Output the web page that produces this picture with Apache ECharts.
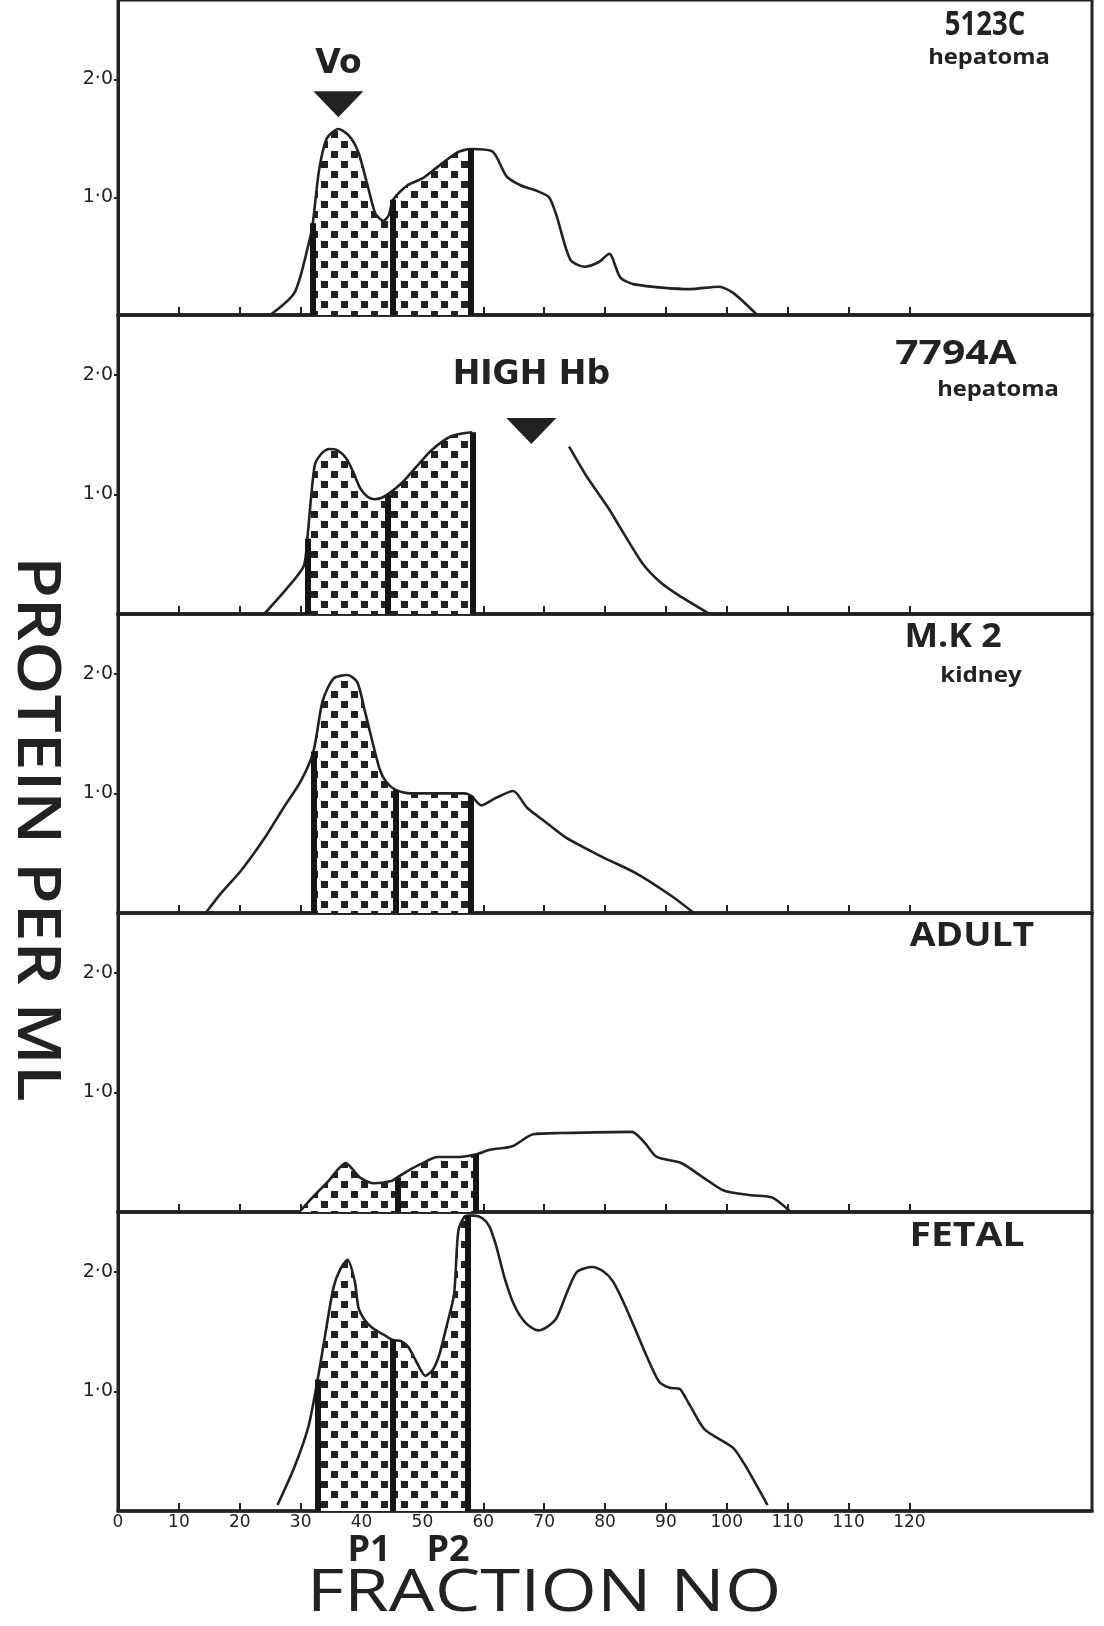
<!DOCTYPE html>
<html>
<head>
<meta charset="utf-8">
<title>Protein per ml</title>
<script src="https://cdn.jsdelivr.net/npm/echarts@6/dist/echarts.min.js"></script>
<style>
  html, body { margin: 0; padding: 0; background: #fff; }
  #chart { width: 1104px; height: 1626px; }
</style>
</head>
<body>
<div id="chart"></div>
<script>
// fraction axis (the print repeats "110")
const tickValues = [0, 10, 20, 30, 40, 50, 60, 70, 80, 90, 100, 110, 120, 130];
const tickLabels = ['0', '10', '20', '30', '40', '50', '60', '70', '80', '90', '100', '110', '110', '120'];
const yTickValues = [1, 2];
const yTickLabels = ['1·0', '2·0'];

// protein per ml, [fraction no, value]
const c5123 = [[25, 0], [29, 0.19], [31.3, 0.6], [32, 0.78], [33, 1.22], [34.3, 1.5], [36.2, 1.58], [38, 1.52],
  [39.5, 1.38], [41.1, 1.08], [42.3, 0.86], [43.6, 0.8], [44.5, 0.85], [45.2, 0.98], [47.5, 1.1], [50, 1.16],
  [52.3, 1.25], [55.7, 1.38], [58, 1.41], [61.5, 1.39], [63.8, 1.18], [66.2, 1.1], [69, 1.05], [70.8, 1.0],
  [72, 0.85], [74.3, 0.47], [76.6, 0.41], [79, 0.45], [80.7, 0.52], [82.5, 0.32], [84.8, 0.26], [93.9, 0.22],
  [98.7, 0.24], [101, 0.19], [105, 0]];
const c7794 = [[24, 0], [27.5, 0.2], [30.5, 0.4], [31.1, 0.63], [32.3, 1.24], [33.4, 1.34], [34.6, 1.38], [36, 1.37],
  [37.5, 1.3], [38.7, 1.18], [39.8, 1.05], [41, 0.98], [42.1, 0.96], [43.2, 0.97], [44.3, 1.0], [46.7, 1.1],
  [49, 1.23], [51.5, 1.37], [54.9, 1.49], [58.2, 1.52], [66, '-'], [74.1, 1.4], [77, 1.15], [80.5, 0.89],
  [83, 0.68], [86.2, 0.42], [89, 0.27], [92, 0.16], [97.2, 0]];
const mk2 = [[14.4, 0], [17, 0.17], [20.3, 0.36], [24, 0.62], [27.2, 0.88], [30, 1.1], [32.1, 1.35], [33.6, 1.77],
  [35.4, 1.96], [37.7, 1.99], [39.3, 1.93], [40.5, 1.7], [41.8, 1.43], [43, 1.2], [44, 1.1], [45.6, 1.03],
  [48, 1.0], [52, 1.0], [56.9, 1.0], [58, 0.98], [59.7, 0.9], [62, 0.96], [64.9, 1.02], [67.2, 0.88],
  [70, 0.77], [73.6, 0.63], [79.5, 0.47], [85.2, 0.33], [91, 0.14], [94.6, 0]];
const adult = [[29.8, 0], [32.1, 0.13], [34.6, 0.26], [36.2, 0.36], [37.4, 0.41], [38.5, 0.36], [39.7, 0.29],
  [42.1, 0.24], [44.9, 0.26], [45.9, 0.29], [47.5, 0.34], [49.7, 0.4], [52.5, 0.46], [56, 0.46], [58.7, 0.48],
  [61.1, 0.52], [64.8, 0.55], [68.2, 0.65], [72.8, 0.66], [84.4, 0.67], [86.5, 0.58], [88.5, 0.46], [92.5, 0.41],
  [96.1, 0.29], [99.5, 0.18], [104, 0.14], [107.5, 0.12], [110.5, 0]];
const fetal = [[26.2, 0.05], [29, 0.37], [31.3, 0.71], [32.8, 1.1], [33.8, 1.4], [35.4, 1.87], [36.5, 2.02],
  [37.7, 2.1], [38.9, 1.92], [39.5, 1.7], [40.5, 1.6], [41.8, 1.53], [44.1, 1.46], [45.2, 1.43], [46.5, 1.42],
  [47.7, 1.37], [49, 1.25], [50.5, 1.13], [51.7, 1.18], [52.8, 1.31], [54, 1.55], [55.2, 1.81], [55.9, 2.34],
  [56.9, 2.46], [57.5, 2.47], [58.5, 2.47], [59.8, 2.45], [61, 2.38], [62.1, 2.22], [63.5, 1.95], [65.1, 1.72],
  [67, 1.57], [69, 1.51], [70.5, 1.54], [72, 1.61], [73.7, 1.82], [75.4, 2.0], [77.9, 2.04], [79.8, 2.0],
  [81.3, 1.92], [83, 1.75], [84.8, 1.54], [86.8, 1.3], [88.9, 1.08], [90.6, 1.03], [92.3, 1.02], [93.2, 0.95],
  [94.1, 0.87], [96.4, 0.68], [101, 0.53], [102.8, 0.4], [104.4, 0.26], [106.7, 0.05]];

// P1 / P2 cut lines, [fraction no, value where they meet the curve]
const cuts5123 = [[32, 0.78], [45.2, 0.98], [58, 1.41]];
const cuts7794 = [[31.1, 0.63], [44.3, 1.0], [58.2, 1.52]];
const cutsMk2 = [[32.1, 1.35], [45.6, 1.03], [58, 0.98]];
const cutsAdult = [[29.8, 0], [45.9, 0.29], [58.7, 0.48]];
const cutsFetal = [[32.8, 1.1], [45.2, 1.43], [57.5, 2.47]];

// arrow markers
const voMark = [[36.2, 1.79]];
const hbMark = [[67.9, 1.53]];

const INK = '#222';
const UNIT = 119.6; // px per 1.0 on every panel
const panels = [
  { curve: c5123, cuts: cuts5123, top: -5, bottom: 315, mark: voMark, markText: 'Vo', markGap: 10 },
  { curve: c7794, cuts: cuts7794, top: 315, bottom: 614, mark: hbMark, markText: 'HIGH Hb', markGap: 26 },
  { curve: mk2, cuts: cutsMk2, top: 614, bottom: 913 },
  { curve: adult, cuts: cutsAdult, top: 913, bottom: 1212 },
  { curve: fetal, cuts: cutsFetal, top: 1212, bottom: 1511 }
];

// stippled fill
function dotTile() {
  const c = document.createElement('canvas');
  c.width = 20; c.height = 20;
  const g = c.getContext('2d');
  g.fillStyle = '#fff';
  g.fillRect(0, 0, 20, 20);
  g.fillStyle = '#222';
  g.fillRect(1, 1, 7, 7);
  g.fillRect(11, 11, 7, 7);
  return c;
}
const dots = { image: dotTile(), repeat: 'repeat' };

const chart = echarts.init(document.getElementById('chart'));

const grid = [], xAxis = [], yAxis = [], series = [];
panels.forEach((p, i) => {
  const last = i === panels.length - 1;
  grid.push({ left: 118, right: 12, top: p.top, height: p.bottom - p.top,
    show: true, borderColor: INK, borderWidth: 3, backgroundColor: 'transparent' });
  xAxis.push({
    gridIndex: i, type: 'value', min: 0, max: 160,
    axisLine: { lineStyle: { color: INK, width: 3.5 } },
    axisTick: { show: true, inside: true, length: 8, customValues: tickValues.slice(1), lineStyle: { color: INK, width: 2 } },
    axisLabel: {
      show: last, customValues: tickValues, margin: 3,
      formatter: v => tickLabels[tickValues.indexOf(v)],
      color: INK, fontSize: 17, fontFamily: 'DejaVu Sans, sans-serif'
    },
    splitLine: { show: false }
  });
  yAxis.push({
    gridIndex: i, type: 'value', min: 0, max: (p.bottom - p.top) / UNIT,
    axisLine: { show: true, lineStyle: { color: INK, width: 3 } },
    axisTick: { show: true, length: 4, customValues: yTickValues, lineStyle: { color: INK, width: 2 } },
    axisLabel: {
      customValues: yTickValues, margin: 5,
      formatter: v => yTickLabels[yTickValues.indexOf(v)],
      color: INK, fontSize: 19, fontFamily: 'DejaVu Sans, sans-serif'
    },
    splitLine: { show: false }
  });
  const lo = p.cuts[0][0], hi = p.cuts[p.cuts.length - 1][0];
  series.push({
    type: 'line', xAxisIndex: i, yAxisIndex: i, z: 1,
    data: p.curve.filter(d => d[0] >= lo && d[0] <= hi),
    showSymbol: false, smooth: 0.25, lineStyle: { width: 0 },
    areaStyle: { color: dots, opacity: 1 }
  });
  series.push({
    type: 'line', xAxisIndex: i, yAxisIndex: i, z: 3,
    data: p.curve, showSymbol: false, smooth: 0.25,
    lineStyle: { color: INK, width: 2.6 },
    markLine: {
      silent: true, symbol: ['none', 'none'], label: { show: false },
      lineStyle: { color: '#151515', width: 6, type: 'solid' },
      data: p.cuts.map(c => [{ coord: [c[0], 0] }, { coord: [c[0], c[1]] }])
    }
  });
  if (p.mark) {
    series.push({
      type: 'scatter', xAxisIndex: i, yAxisIndex: i, z: 4,
      data: p.mark, symbol: 'triangle', symbolRotate: 180, symbolSize: [50, 26],
      itemStyle: { color: INK, opacity: 1 },
      label: { show: true, position: 'top', distance: p.markGap, formatter: p.markText,
        color: INK, fontSize: 33, fontWeight: 'bold', fontFamily: 'DejaVu Sans, sans-serif' }
    });
  }
});

function txt(text, x, y, font, sx, extra) {
  return Object.assign({ type: 'text', x, y, z: 10, scaleX: sx || 1,
    style: { text, font, fill: INK, textAlign: 'center', textVerticalAlign: 'middle' } }, extra || {});
}
const big = 'bold 34px "Open Sans", sans-serif';
const small = 'bold 22px "Open Sans", sans-serif';

chart.setOption({
  animation: false,
  backgroundColor: '#fff',
  grid, xAxis, yAxis, series,
  graphic: [
    txt('5123C', 985, 25, big, 0.81),
    txt('hepatoma', 989, 58, small, 1.08),
    txt('7794A', 956, 354, big, 1.2),
    txt('hepatoma', 998, 390, small, 1.08),
    txt('M.K 2', 953, 637, big, 1.05),
    txt('kidney', 981, 676, small, 1.1),
    txt('ADULT', 972, 936, big, 1.1),
    txt('FETAL', 967, 1236, big, 1.15),
    txt('P1', 369, 1551, 'bold 36px "Open Sans", sans-serif'),
    txt('P2', 448, 1551, 'bold 36px "Open Sans", sans-serif'),
    txt('FRACTION NO', 544, 1594, '500 58px "Open Sans", sans-serif', 1.25),
    txt('PROTEIN PER ML', 35, 829, '600 60px "Open Sans", sans-serif', 1.13, { rotation: -Math.PI / 2 })
  ]
});
</script>
</body>
</html>
